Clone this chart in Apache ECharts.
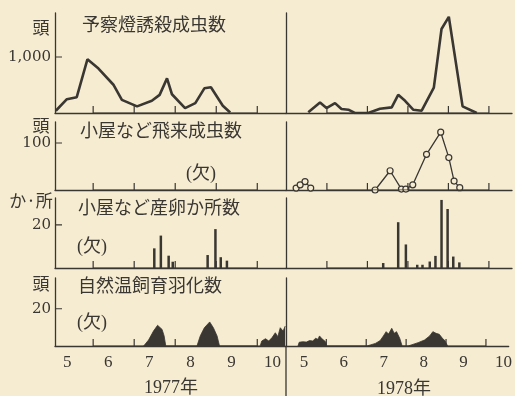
<!DOCTYPE html>
<html><head><meta charset="utf-8">
<script src="https://cdn.jsdelivr.net/npm/echarts@6/dist/echarts.min.js"></script>
<style>html,body{margin:0;padding:0;background:#f6ecd2}#c{width:515px;height:396px}</style>
</head><body><div id="c"></div>
<script>
// ---------- data ----------
const months = [5, 6, 7, 8, 9, 10];
const monthLabels = ['5', '6', '7', '8', '9', '10'];
const monthStarts = [6, 7, 8, 9, 10];
const years = ['1977年', '1978年'];
const panelTitles = ['予察燈誘殺成虫数', '小屋など飛来成虫数', '小屋など産卵か所数', '自然温飼育羽化数'];
const unitLabels = ['頭', '頭', 'か·所', '頭'];
const yTickValues = [1000, 100, 20, 20];
const yTickLabels = ['1,000', '100', '20', '20'];
const missingLabel = '(欠)';

// [month (fractional), value]
const trap1977 = [[5.09,40],[5.36,247],[5.60,282],[5.86,959],[6.13,794],[6.50,500],[6.70,235],[7.07,118],[7.43,218],[7.62,324],[7.80,618],[7.92,335],[8.24,88],[8.49,176],[8.71,441],[8.87,459],[9.16,129],[9.34,8]];
const trap1978 = [[5.54,12],[5.83,188],[5.99,88],[6.20,176],[6.36,71],[6.53,59],[6.69,0],[7.02,0],[7.31,76],[7.60,100],[7.76,324],[7.93,218],[8.13,59],[8.34,41],[8.64,453],[8.83,1500],[9.01,1718],[9.35,118],[9.70,0]];
const flightMay1978 = [[5.24,4],[5.34,11],[5.46,18],[5.60,4]];
const flightSummer1978 = [[7.19,0],[7.56,41],[7.84,2],[7.95,2],[8.12,11],[8.46,76],[8.81,123],[9.01,69],[9.14,19],[9.28,5]];
const oviposit1977 = [[7.49,9.1],[7.65,15],[7.84,5.7],[7.94,2.9],[8.79,6],[8.98,18],[9.11,5],[9.26,3.4]];
const oviposit1978 = [[7.39,2.3],[7.76,21.2],[7.95,10.9],[8.23,1.5],[8.36,1.5],[8.54,3],[8.68,5.6],[8.83,31.5],[8.98,27.3],[9.12,5.3],[9.27,2.6]];
const emerge1977 = [[7.23,0],[7.35,3.2],[7.47,8.0],[7.57,11.1],[7.68,8.9],[7.73,5.4],[7.77,0],[8.53,0],[8.61,5.4],[8.71,9.8],[8.84,12.9],[8.93,9.8],[9.02,5.4],[9.08,0],[10.07,0],[10.11,2.7],[10.20,3.9],[10.28,2.7],[10.36,4.5],[10.44,7.1],[10.50,5.0],[10.56,9.8],[10.63,8.0],[10.68,10.7]];
const emerge1978 = [[5.29,0],[5.32,2.0],[5.41,2.3],[5.50,2.1],[5.58,2.9],[5.66,2.7],[5.73,4.1],[5.79,3.6],[5.83,5.4],[5.88,4.1],[5.93,5.0],[5.98,2.3],[6.01,0],[7.02,0],[7.23,1.4],[7.35,2.9],[7.43,5.4],[7.50,7.7],[7.56,6.4],[7.64,9.5],[7.70,6.8],[7.76,7.7],[7.84,4.1],[7.90,0],[8.05,0],[8.30,1.8],[8.46,3.2],[8.59,5.4],[8.67,7.7],[8.75,6.8],[8.83,6.3],[8.91,4.1],[8.97,2.9],[9.04,0]];

// ---------- layout ----------
const bg = '#f6ecd2';
const ink = '#3a3632';
const rows = [
  {top: 13, height: 100, max: 1786},
  {top: 122, height: 68, max: 144.7},
  {top: 198, height: 70, max: 32.4},
  {top: 278, height: 68, max: 36.5}
];
const cols = [
  {left: 55, width: 231, min: 5.07, max: 10.70, shift: 0.37},
  {left: 286, width: 226, min: 4.99, max: 10.57, shift: 0.44}
];
const TICK = 7; // tick length in px

const grid = [], xAxis = [], yAxis = [], tickSeries = [];
rows.forEach((r, ri) => {
  cols.forEach((c, ci) => {
    const idx = ri * 2 + ci;
    grid.push({left: c.left, top: r.top, width: c.width, height: r.height});
    xAxis.push({
      type: 'value', gridIndex: idx, min: c.min, max: c.max,
      axisLine: {show: true, lineStyle: {color: ink, width: 1.3}},
      axisTick: {show: false},
      axisLabel: {
        show: ri === 3, customValues: months.map(m => m + c.shift), margin: 8,
        formatter: v => monthLabels[months.indexOf(Math.floor(v + 1e-6))],
        fontFamily: 'Liberation Serif', fontSize: 17, color: ink
      },
      splitLine: {show: false}
    });
    yAxis.push({
      type: 'value', gridIndex: idx, min: 0, max: r.max,
      axisLine: {show: true, lineStyle: {color: ink, width: 1.3}},
      axisTick: {show: false},
      axisLabel: {
        show: ci === 0, customValues: [yTickValues[ri]], margin: 4,
        formatter: () => yTickLabels[ri],
        fontFamily: 'DejaVu Serif', fontSize: 15, color: ink
      },
      splitLine: {show: false}
    });
    // month-boundary tick marks drawn as a line series through the axis scales
    const h = TICK / r.height * r.max;
    const tickPath = [];
    monthStarts.forEach(m => { tickPath.push([m, 0], [m, h], [m, 0]); });
    tickSeries.push({type: 'line', symbol: 'none', xAxisIndex: idx, yAxisIndex: idx, data: tickPath,
      lineStyle: {color: ink, width: 1.2}, z: 4});
    if (ci === 0) {
      const dx = TICK / c.width * (c.max - c.min);
      tickSeries.push({type: 'line', symbol: 'none', xAxisIndex: idx, yAxisIndex: idx,
        data: [[c.min, yTickValues[ri]], [c.min + dx, yTickValues[ri]]],
        lineStyle: {color: ink, width: 1.2}, z: 4});
    }
  });
});

const series = [
  {type: 'line', symbol: 'none', xAxisIndex: 0, yAxisIndex: 0, data: trap1977, lineStyle: {color: ink, width: 2.6}},
  {type: 'line', symbol: 'none', xAxisIndex: 1, yAxisIndex: 1, data: trap1978, lineStyle: {color: ink, width: 2.6}},
  {type: 'line', xAxisIndex: 3, yAxisIndex: 3, data: flightMay1978, symbol: 'circle', symbolSize: 6,
    lineStyle: {color: ink, width: 1.3}, itemStyle: {color: bg, borderColor: ink, borderWidth: 1.2}},
  {type: 'line', xAxisIndex: 3, yAxisIndex: 3, data: flightSummer1978, symbol: 'circle', symbolSize: 6,
    lineStyle: {color: ink, width: 1.3}, itemStyle: {color: bg, borderColor: ink, borderWidth: 1.2}},
  {type: 'bar', xAxisIndex: 4, yAxisIndex: 4, data: oviposit1977, barWidth: 2.5, itemStyle: {color: ink}},
  {type: 'bar', xAxisIndex: 5, yAxisIndex: 5, data: oviposit1978, barWidth: 2.5, itemStyle: {color: ink}},
  {type: 'line', symbol: 'none', xAxisIndex: 6, yAxisIndex: 6, data: emerge1977, lineStyle: {color: ink, width: 0.8}, areaStyle: {color: ink, opacity: 1}},
  {type: 'line', symbol: 'none', xAxisIndex: 7, yAxisIndex: 7, data: emerge1978, lineStyle: {color: ink, width: 0.8}, areaStyle: {color: ink, opacity: 1}}
].concat(tickSeries);

const cjk = '"Noto Sans CJK JP"';
const titlePos = [[82, 24], [80, 130], [78, 207], [78, 285]];
const unitPos = [[41, 28], [41, 126], [31, 201], [41, 284]];
const missingPos = [[201, 174], [92, 247], [92, 323]];
const yearPos = [[171, 388], [404, 389]];
const graphic = [];
panelTitles.forEach((t, i) => graphic.push({type: 'text', x: titlePos[i][0], y: titlePos[i][1],
  style: {text: t, fill: ink, font: '18px ' + cjk, textVerticalAlign: 'middle'}}));
unitLabels.forEach((t, i) => graphic.push({type: 'text', x: unitPos[i][0], y: unitPos[i][1],
  style: {text: t, fill: ink, font: '17px ' + cjk, textAlign: 'center', textVerticalAlign: 'middle'}}));
missingPos.forEach(p => graphic.push({type: 'text', x: p[0], y: p[1],
  style: {text: missingLabel, fill: ink, font: '18px "Liberation Serif", ' + cjk, textAlign: 'center', textVerticalAlign: 'middle'}}));
years.forEach((t, i) => graphic.push({type: 'text', x: yearPos[i][0], y: yearPos[i][1],
  style: {text: t, fill: ink, font: '18px "Liberation Serif", ' + cjk, textAlign: 'center', textVerticalAlign: 'middle'}}));
graphic.push({type: 'line', shape: {x1: 286, y1: 346, x2: 286, y2: 396}, style: {stroke: ink, lineWidth: 1.3}});

const chart = echarts.init(document.getElementById('c'), null, {renderer: 'canvas'});
chart.setOption({backgroundColor: bg, animation: false, grid, xAxis, yAxis, series, graphic});
</script></body></html>
